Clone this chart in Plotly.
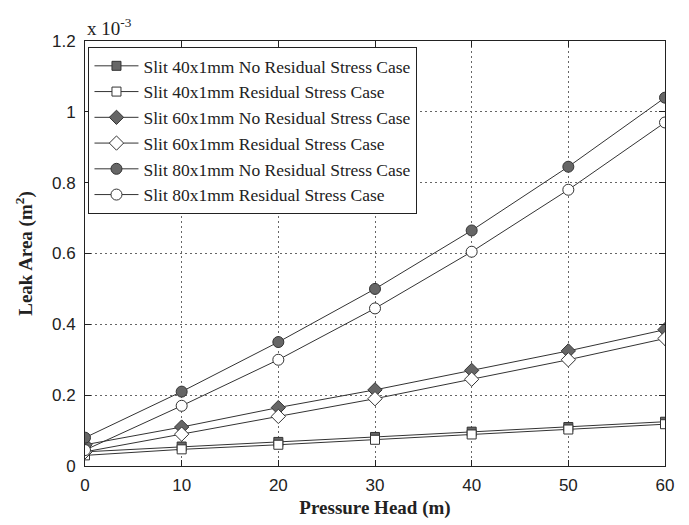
import plotly.graph_objects as go

x = [0, 10, 20, 30, 40, 50, 60]
s40_no = [0.040, 0.055, 0.068, 0.082, 0.097, 0.110, 0.125]
s40_rs = [0.030, 0.047, 0.060, 0.074, 0.089, 0.103, 0.118]
s60_no = [0.060, 0.110, 0.165, 0.215, 0.270, 0.325, 0.385]
s60_rs = [0.040, 0.090, 0.140, 0.190, 0.245, 0.300, 0.360]
s80_no = [0.080, 0.210, 0.350, 0.500, 0.665, 0.845, 1.040]
s80_rs = [0.045, 0.170, 0.300, 0.445, 0.605, 0.780, 0.970]

names = ["Slit 40x1mm No Residual Stress Case", "Slit 40x1mm Residual Stress Case",
         "Slit 60x1mm No Residual Stress Case", "Slit 60x1mm Residual Stress Case",
         "Slit 80x1mm No Residual Stress Case", "Slit 80x1mm Residual Stress Case"]
series = [s40_no, s40_rs, s60_no, s60_rs, s80_no, s80_rs]
symbols = ["square", "square", "diamond", "diamond", "circle", "circle"]
fills = ["#666666", "white", "#666666", "white", "#666666", "white"]
sizes = [9, 9, 11, 11, 11, 11]

fig = go.Figure()
for nm, ys, sym, fc, sz in zip(names, series, symbols, fills, sizes):
    fig.add_trace(go.Scatter(
        x=x, y=ys, name=nm, mode="lines+markers",
        line=dict(color="#333333", width=1),
        marker=dict(symbol=sym, size=sz, color=fc, line=dict(color="#333333", width=1)),
    ))

axis_common = dict(showline=True, linecolor="#222222", linewidth=1, mirror="ticks",
                   ticks="inside", ticklen=6, tickcolor="#222222", automargin=False,
                   showgrid=True, gridcolor="#666666", griddash="2px,3px", gridwidth=1,
                   zeroline=False, tickfont=dict(family="Liberation Sans, Arial", size=17, color="#222222"))

# page body has an 8px margin, so the figure is made 8px smaller on each side
fig.update_layout(
    width=681, height=517,
    margin=dict(l=77, r=24, t=33, b=59),
    paper_bgcolor="white", plot_bgcolor="white",
    xaxis=dict(range=[0, 60], tickvals=[0, 10, 20, 30, 40, 50, 60], ticklabelstandoff=4,
               title=dict(text="<b>Pressure Head (m)</b>", standoff=6,
                          font=dict(family="Liberation Serif, Times New Roman", size=19, color="#222222")),
               **axis_common),
    yaxis=dict(range=[0, 1.2], tickvals=[0, 0.2, 0.4, 0.6, 0.8, 1.0, 1.2],
               ticktext=["0", "0.2", "0.4", "0.6", "0.8", "1", "1.2"], ticklabelstandoff=5,
               title=dict(text="<b>Leak Area (m<sup>2</sup>)</b>", standoff=14,
                          font=dict(family="Liberation Serif, Times New Roman", size=19, color="#222222")),
               **axis_common),
    legend=dict(x=0.006, y=0.986, xanchor="left", yanchor="top",
                bgcolor="white", bordercolor="#222222", borderwidth=1,
                font=dict(family="Liberation Serif, Times New Roman", size=17.5, color="#222222"),
                tracegroupgap=0, itemwidth=44),
    showlegend=True,
    annotations=[dict(text="x 10<sup>-3</sup>", xref="paper", yref="paper", x=0.0, y=1.0,
                      xanchor="left", yanchor="bottom", showarrow=False,
                      font=dict(family="Liberation Serif, Times New Roman", size=19, color="#222222"))],
)

fig.write_html("out.html")
